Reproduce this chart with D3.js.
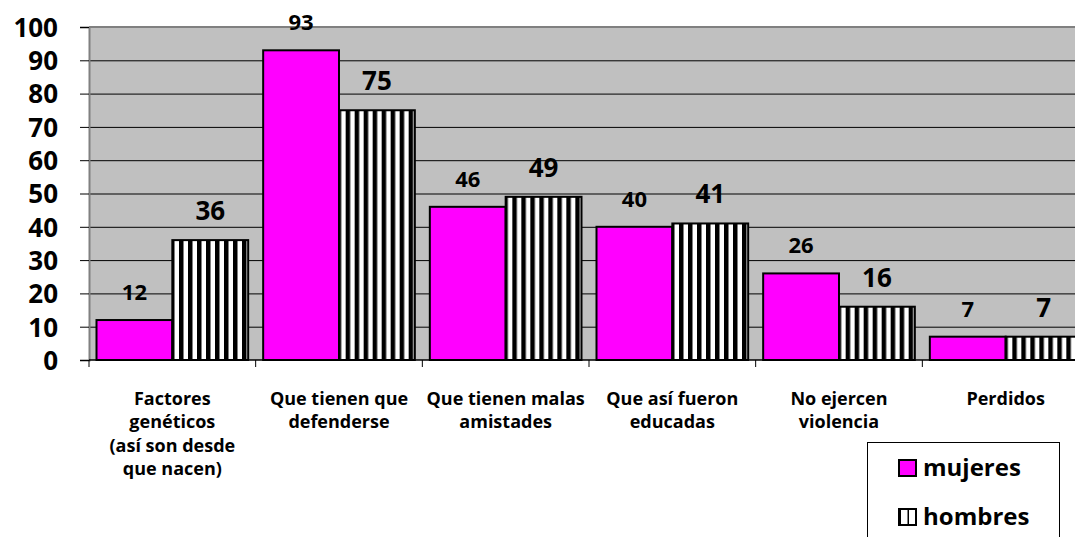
<!DOCTYPE html>
<html><head><meta charset="utf-8">
<script src="https://cdn.jsdelivr.net/npm/d3@7"></script>
<style>body{margin:0;background:#fff}svg{display:block}text{font-family:"Open Sans",Lato,sans-serif;font-weight:bold;fill:#000}</style>
</head><body><svg id="c" width="1075" height="537"></svg>
<script>
const categories = [
  ["Factores","genéticos","(así son desde","que nacen)"],
  ["Que tienen que","defenderse"],
  ["Que tienen malas","amistades"],
  ["Que así fueron","educadas"],
  ["No ejercen","violencia"],
  ["Perdidos"]
];
const mujeres = [12, 93, 46, 40, 26, 7];
const hombres = [36, 75, 49, 41, 16, 7];
const seriesNames = ["mujeres","hombres"];
const yTicks = [0,10,20,30,40,50,60,70,80,90,100];

(function(){
const svg = d3.select("#c");
const pLeft = 89, pTop = 27, pBottom = 360, pRight = 1089;
const catIdx = d3.range(categories.length);
const x0 = d3.scaleBand().domain(catIdx).range([pLeft, pRight]).padding(0);
const x1 = d3.scaleBand().domain(seriesNames).range([7.5, x0.bandwidth()-7.5]).padding(0);
const y = d3.scaleLinear().domain([0,100]).range([pBottom, pTop]);

const defs = svg.append("defs");
const pat = defs.append("pattern").attr("id","stripes").attr("patternUnits","userSpaceOnUse")
  .attr("width",9).attr("height",10);
pat.append("rect").attr("width",9).attr("height",10).attr("fill","#fff");
pat.append("rect").attr("x",0).attr("width",4.5).attr("height",10).attr("fill","#000");
const pat2 = defs.append("pattern").attr("id","stripesL").attr("patternUnits","userSpaceOnUse")
  .attr("x",898).attr("width",8).attr("height",10);
pat2.append("rect").attr("width",8).attr("height",10).attr("fill","#fff");
pat2.append("rect").attr("x",6.5).attr("width",3).attr("height",10).attr("fill","#000");

// plot area
svg.append("rect").attr("x",pLeft).attr("y",pTop).attr("width",pRight-pLeft).attr("height",pBottom-pTop)
  .attr("fill","#c0c0c0");
svg.append("line").attr("x1",pLeft).attr("x2",pRight).attr("y1",pTop).attr("y2",pTop)
  .attr("stroke","#808080").attr("stroke-width",2);
// gridlines
svg.append("g").selectAll("line").data(yTicks.filter(d=>d>0 && d<100)).join("line")
  .attr("x1",pLeft).attr("x2",pRight).attr("y1",d=>y(d)+0.5).attr("y2",d=>y(d)+0.5)
  .attr("stroke","#000").attr("stroke-width",1);

// y axis
const yAxis = d3.axisLeft(y).tickValues(yTicks).tickSize(9).tickPadding(22);
const gy = svg.append("g").attr("transform",`translate(${pLeft},0)`).call(yAxis);
gy.attr("font-family",null).attr("font-size",null);
gy.select(".domain").attr("stroke","#808080").attr("stroke-width",2);
gy.selectAll(".tick line").attr("stroke","#000");
gy.selectAll(".tick text").style("font-size","26px").attr("dy","0.36em");

// x axis
svg.append("line").attr("x1",pLeft).attr("x2",pRight).attr("y1",pBottom).attr("y2",pBottom)
  .attr("stroke","#000").attr("stroke-width",1.5);
svg.append("g").selectAll("line").data(d3.range(categories.length+1)).join("line")
  .attr("x1",d=>pLeft+d*x0.step()).attr("x2",d=>pLeft+d*x0.step())
  .attr("y1",pBottom).attr("y2",pBottom+7).attr("stroke","#000");

// bars
const g = svg.append("g");
const data = catIdx.map(i=>({i, vals:[{s:"mujeres",v:mujeres[i]},{s:"hombres",v:hombres[i]}]}));
const grp = g.selectAll("g").data(data).join("g").attr("transform",d=>`translate(${x0(d.i)},0)`);
grp.selectAll("rect").data(d=>d.vals).join("rect")
  .attr("x",d=>x1(d.s)).attr("width",x1.bandwidth())
  .attr("y",d=>y(d.v)).attr("height",d=>y(0)-y(d.v))
  .attr("fill",d=>d.s==="mujeres"?"#ff00ff":"url(#stripes)")
  .attr("stroke","#000").attr("stroke-width",2);
grp.selectAll("text.v").data(d=>d.vals).join("text").attr("class","v")
  .attr("x",d=>x1(d.s)+x1.bandwidth()/2).attr("y",d=>y(d.v)-20)
  .attr("text-anchor","middle")
  .style("font-size",d=>d.s==="mujeres"?"22px":"26px")
  .text(d=>d.v);

// category labels
const cl = svg.append("g").selectAll("text").data(catIdx).join("text")
  .attr("x",i=>x0(i)+x0.bandwidth()/2).attr("y",405).attr("text-anchor","middle")
  .style("font-size","18px");
cl.selectAll("tspan").data(i=>categories[i].map(t=>({t,i}))).join("tspan")
  .attr("x",d=>x0(d.i)+x0.bandwidth()/2).attr("dy",(d,k)=>k===0?0:23.3).text(d=>d.t);

// legend
svg.append("rect").attr("x",867.5).attr("y",442.5).attr("width",192).attr("height",120)
  .attr("fill","#fff").attr("stroke","#000").attr("stroke-width",1);
const leg = svg.append("g").selectAll("g").data(seriesNames).join("g")
  .attr("transform",(d,k)=>`translate(899,${460+k*49})`);
leg.append("rect").attr("width",17).attr("height",16)
  .attr("fill",d=>d==="mujeres"?"#ff00ff":"url(#stripesL)").attr("stroke","#000").attr("stroke-width",2);
leg.append("text").attr("x",24).attr("y",16).style("font-size","24px").text(d=>d);
})();
</script></body></html>
